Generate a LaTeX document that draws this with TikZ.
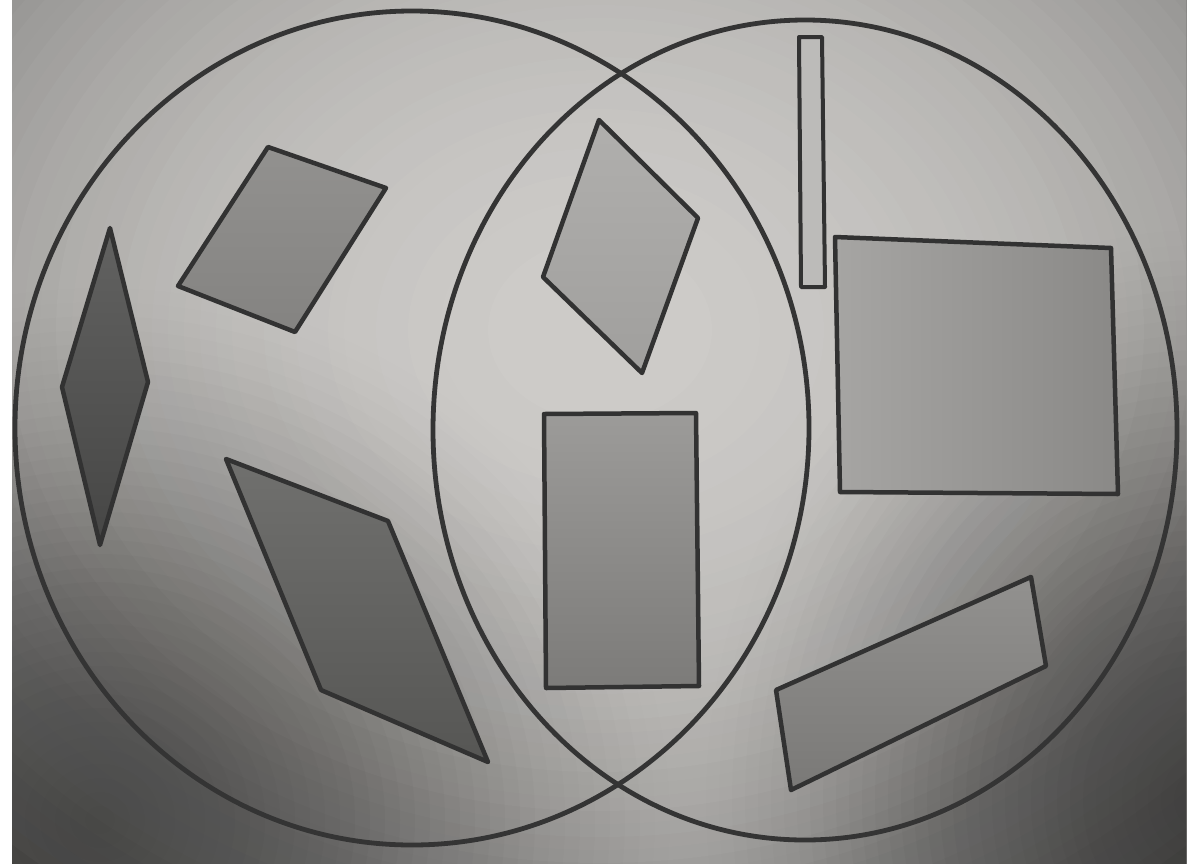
\documentclass[tikz,border=0pt]{standalone}

\definecolor{paperlight}{RGB}{206,204,201}
\definecolor{paperdark}{RGB}{66,66,65}
\definecolor{inkline}{RGB}{50,50,50}
\definecolor{ringline}{RGB}{52,52,52}

\tikzset{
  ring/.style={draw=ringline, line width=4.8},
  piece/.style={draw=inkline, line width=4.5, line join=round}
}

\begin{document}
\begin{tikzpicture}[x=1pt,y=1pt,yscale=-1,xscale=1]
		\useasboundingbox (0,0) rectangle (1191,863);
		\fill[white] (0,0) rectangle (1191,863);
		
		%Paper background, lighter in the middle
		\begin{scope}
		\clip (12,0) rectangle (1186,863);
		\foreach \k in {140,138,...,2}{
			\pgfmathsetmacro\r{\k/100}
			\pgfmathtruncatemacro\p{max(0,100*(1-66*\r*\r/140))}
			\fill[paperlight!\p!paperdark] (600,330) ellipse [x radius=800*\r, y radius=650*\r];
		}
		%shadow, bottom left
		\foreach \k in {40,39,...,1}{
			\pgfmathsetmacro\s{\k/40}
			\pgfmathsetmacro\sn{(\k+1)/40}
			\pgfmathsetmacro\A{0.38*(1-\s*\s)*(1-\s*\s)}
			\pgfmathsetmacro\An{(\sn>1) ? 0 : 0.38*(1-\sn*\sn)*(1-\sn*\sn)}
			\pgfmathsetmacro\a{max(0,1-(1-\A)/(1-\An))}
			\fill[black, opacity=\a] (100,820) ellipse [x radius=600*\s, y radius=560*\s];
		}
		%shadow, bottom right
		\foreach \k in {40,39,...,1}{
			\pgfmathsetmacro\s{\k/40}
			\pgfmathsetmacro\sn{(\k+1)/40}
			\pgfmathsetmacro\A{0.42*(1-\s*\s)*(1-\s*\s)}
			\pgfmathsetmacro\An{(\sn>1) ? 0 : 0.42*(1-\sn*\sn)*(1-\sn*\sn)}
			\pgfmathsetmacro\a{max(0,1-(1-\A)/(1-\An))}
			\fill[black, opacity=\a] (1200,800) ellipse [x radius=520*\s, y radius=600*\s];
		}
		\end{scope}
		
		%Shape: Ellipse (left set)
		\draw [ring] (412,428) ellipse [x radius=397, y radius=417];
		%Shape: Ellipse (right set)
		\draw [ring] (805,430) ellipse [x radius=372, y radius=410];
		
		%Shape: Kite, left
		\draw [piece, top color={rgb,255:red,98;green,98;blue,97}, bottom color={rgb,255:red,70;green,70;blue,69}] (110,228) -- (148,382) -- (100,545) -- (62,387) -- cycle;
		%Shape: Parallelogram, top left
		\draw [piece, top color={rgb,255:red,146;green,145;blue,143}, bottom color={rgb,255:red,132;green,131;blue,129}] (268,147) -- (386,188) -- (295,332) -- (178,286) -- cycle;
		%Shape: Parallelogram, bottom left
		\draw [piece, top color={rgb,255:red,112;green,112;blue,110}, bottom color={rgb,255:red,86;green,86;blue,84}] (226,459) -- (388,521) -- (488,762) -- (321,690) -- cycle;
		%Shape: Rhombus, middle
		\draw [piece, top color={rgb,255:red,176;green,175;blue,173}, bottom color={rgb,255:red,160;green,159;blue,157}] (599,120) -- (698,218) -- (642,373) -- (543,277) -- cycle;
		%Shape: Rectangle, middle
		\draw [piece, top color={rgb,255:red,156;green,155;blue,153}, bottom color={rgb,255:red,124;green,123;blue,121}] (544,414) -- (696,413) -- (699,686) -- (546,688) -- cycle;
		%Shape: Rectangle, thin
		\draw [piece, line width=4, fill={rgb,255:red,188;green,187;blue,185}] (799,37) -- (822,37) -- (825,287) -- (801,287) -- cycle;
		%Shape: Rectangle, large
		\draw [piece, left color={rgb,255:red,166;green,165;blue,163}, right color={rgb,255:red,138;green,137;blue,135}] (835,237) -- (1111,248) -- (1118,494) -- (840,492) -- cycle;
		%Shape: Rectangle, tilted
		\draw [piece, top color={rgb,255:red,146;green,145;blue,143}, bottom color={rgb,255:red,122;green,121;blue,119}] (776,690) -- (1031,577) -- (1046,666) -- (791,790) -- cycle;
	\end{tikzpicture}
\end{document}
